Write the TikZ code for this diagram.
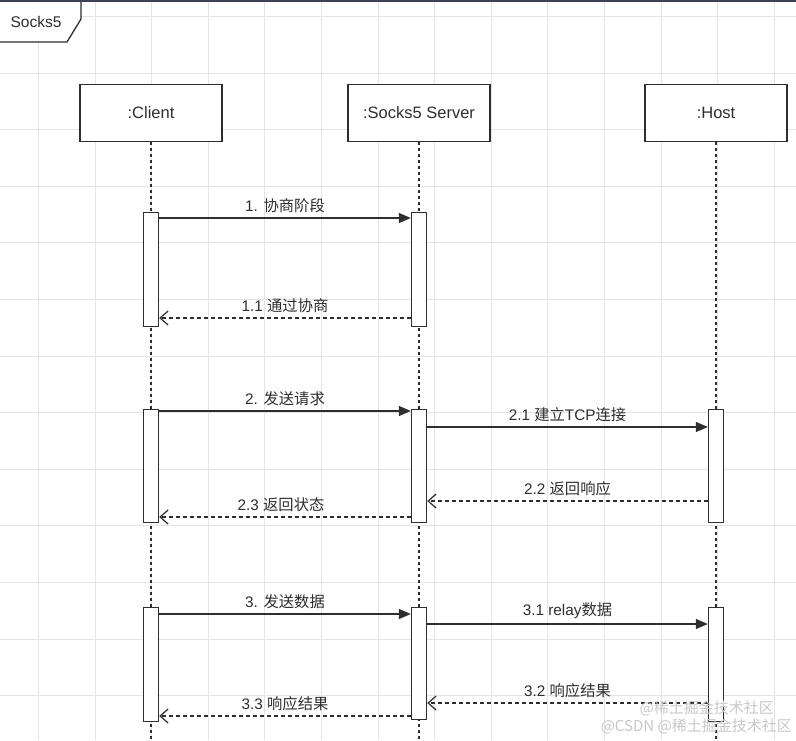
\documentclass[tikz,border=0pt]{standalone}
\usepackage{fontspec}
\setmainfont{Liberation Sans}
\newfontfamily\cjk{Noto Sans CJK SC}
\usetikzlibrary{arrows.meta,positioning}
\definecolor{ink}{HTML}{2E2E2E}
\definecolor{gridc}{HTML}{E4E4E4}
\definecolor{topc}{HTML}{3B4258}
\definecolor{wm}{HTML}{C8C8C8}
\tikzset{
  participant/.style={draw=ink, line width=1.4pt, fill=white, minimum width=142pt, minimum height=57pt, inner sep=0pt, font=\fontsize{16.5}{18}\selectfont, text=ink},
  actbar/.style={draw=ink, line width=1.4pt, fill=white, minimum width=15pt, inner sep=0pt, anchor=north},
  lifeline/.style={draw=ink, line width=1.3pt, dash pattern=on 3pt off 3pt},
  callmsg/.style={draw=ink, line width=1.3pt, -{Triangle[length=12pt,width=10pt]}},
  retmsg/.style={draw=ink, line width=1.2pt, dash pattern=on 4pt off 3pt, -{Straight Barb[length=8pt,width=14pt,line width=1.2pt]}},
  msglabel/.style={midway, above, yshift=4pt, inner sep=1pt, font=\fontsize{15.3}{17}\selectfont, text=ink},
  wmtext/.style={font=\fontsize{15}{16}\selectfont\cjk, text=wm, anchor=east, inner sep=0pt}
}
\begin{document}
\begin{tikzpicture}[x=1pt,y=-1pt]
\useasboundingbox (0,0) rectangle (796,740);
\fill[white] (0,0) rectangle (796,740);
% grid
\foreach \i in {0,...,13} {
  \draw[gridc, line width=0.9pt] ({38.5+56.6*\i},0) -- ({38.5+56.6*\i},740);
}
\foreach \j in {0,...,12} {
  \draw[gridc, line width=0.9pt] (0,{16.5+56.6*\j}) -- (796,{16.5+56.6*\j});
}
% frame
\fill[white] (0,1.5) -- (81,1.5) -- (81,19) -- (67,42) -- (0,42) -- cycle;
\draw[ink, line width=1.3pt] (81,1.5) -- (81,19) -- (67,42) -- (0,42);
\draw[topc, line width=2.5pt] (0,1) -- (796,1);
\node[font=\fontsize{15.5}{17}\selectfont, text=ink] (frame) at (36,22) {Socks5};
% participants
\node[participant] (client) at (151,113) {:Client};
\node[participant] (server) at (419,113) {:Socks5 Server};
\node[participant] (host) at (716,113) {:Host};
\coordinate (clientEnd) at (151,740);
\coordinate (serverEnd) at (419,740);
\coordinate (hostEnd) at (716,740);
\draw[lifeline] (client.south) -- (clientEnd);
\draw[lifeline] (server.south) -- (serverEnd);
\draw[lifeline] (host.south) -- (hostEnd);
% activation bars
\node[actbar, minimum height=114pt] (c1) at (151,212) {};
\node[actbar, minimum height=114pt] (s1) at (419,212) {};
\node[actbar, minimum height=113pt] (c2) at (151,409) {};
\node[actbar, minimum height=113pt] (s2) at (419,409) {};
\node[actbar, minimum height=113pt] (h2) at (716,409) {};
\node[actbar, minimum height=114pt] (c3) at (151,607) {};
\node[actbar, minimum height=112pt] (s3) at (419,607) {};
\node[actbar, minimum height=114pt] (h3) at (716,607) {};
% messages group 1
\draw[callmsg] ([yshift=-6pt]c1.north east) -- ([yshift=-6pt]s1.north west)
  node[msglabel] (m1) {1. {\cjk 协商阶段}};
\draw[retmsg] ([yshift=-106pt]s1.north west) -- ([yshift=-106pt]c1.north east)
  node[msglabel] (m11) {1.1 {\cjk 通过协商}};
% group 2
\draw[callmsg] ([yshift=-2pt]c2.north east) -- ([yshift=-2pt]s2.north west)
  node[msglabel] (m2) {2. {\cjk 发送请求}};
\draw[callmsg] ([yshift=-18pt]s2.north east) -- ([yshift=-18pt]h2.north west)
  node[msglabel] (m21) {2.1 {\cjk 建立}TCP{\cjk 连接}};
\draw[retmsg] ([yshift=-92pt]h2.north west) -- ([yshift=-92pt]s2.north east)
  node[msglabel] (m22) {2.2 {\cjk 返回响应}};
\draw[retmsg] ([yshift=-108pt]s2.north west) -- ([yshift=-108pt]c2.north east)
  node[msglabel, xshift=-4pt] (m23) {2.3 {\cjk 返回状态}};
% group 3
\draw[callmsg] ([yshift=-7pt]c3.north east) -- ([yshift=-7pt]s3.north west)
  node[msglabel] (m3) {3. {\cjk 发送数据}};
\draw[callmsg] ([yshift=-17pt]s3.north east) -- ([yshift=-17pt]h3.north west)
  node[msglabel] (m31) {3.1 relay{\cjk 数据}};
\draw[retmsg] ([yshift=-96pt]h3.north west) -- ([yshift=-96pt]s3.north east)
  node[msglabel] (m32) {3.2 {\cjk 响应结果}};
\draw[retmsg] ([yshift=-109pt]s3.north west) -- ([yshift=-109pt]c3.north east)
  node[msglabel] (m33) {3.3 {\cjk 响应结果}};
% watermark
\node[wmtext] (wm1) at (774,708) {@稀土掘金技术社区};
\node[wmtext] (wm2) at (792,726) {@CSDN @稀土掘金技术社区};
\end{tikzpicture}
\end{document}
